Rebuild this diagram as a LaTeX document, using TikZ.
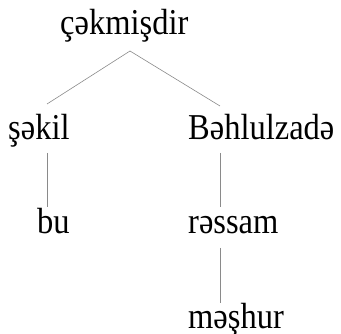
\documentclass[tikz,border=0pt]{standalone}
\usepackage{fontspec}
\setmainfont{Liberation Serif}
\usepackage{tikz}
\usepackage{xcolor}
\definecolor{FontColor}{HTML}{000000}
\definecolor{EdgeColor}{HTML}{8A8A8A}
\newcommand\wordroot{çəkmişdir}
\newcommand\wordobj{şəkil}
\newcommand\wordsubj{Bəhlulzadə}
\newcommand\worddet{bu}
\newcommand\wordnoun{rəssam}
\newcommand\wordadj{məşhur}
\tikzstyle{wordstyle} = [inner sep=0pt, anchor=base west, text=FontColor, yscale=1.12, transform shape, font=\fontsize{32.5}{40}\selectfont]
\tikzstyle{edge} = [draw=EdgeColor, line width=0.6pt]
\tikzset{every picture/.style={x=1pt, y=-1pt}}

\begin{document}
\begin{tikzpicture}
\useasboundingbox (0,0) rectangle (341,334);
\node[wordstyle] (root) at (60, 35) {\wordroot};
\node[wordstyle] (obj) at (8, 140) {\wordobj};
\node[wordstyle] (subj) at (188, 140) {\wordsubj};
\node[wordstyle] (det) at (37, 234) {\worddet};
\node[wordstyle] (noun) at (188, 234) {\wordnoun};
\node[wordstyle] (adj) at (188, 329) {\wordadj};
% attachment points of the branches
\coordinate (root-s) at (130, 51);
\coordinate (obj-n) at (47, 104);
\coordinate (obj-s) at (47, 153);
\coordinate (subj-n) at (220, 106);
\coordinate (subj-s) at (220, 153);
\coordinate (det-n) at (47, 207);
\coordinate (noun-n) at (220, 207);
\coordinate (noun-s) at (220, 248);
\coordinate (adj-n) at (220, 303);
\draw [edge] (root-s) -- (obj-n);
\draw [edge] (root-s) -- (subj-n);
\draw [edge] (obj-s) -- (det-n);
\draw [edge] (subj-s) -- (noun-n);
\draw [edge] (noun-s) -- (adj-n);
\end{tikzpicture}
\end{document}
